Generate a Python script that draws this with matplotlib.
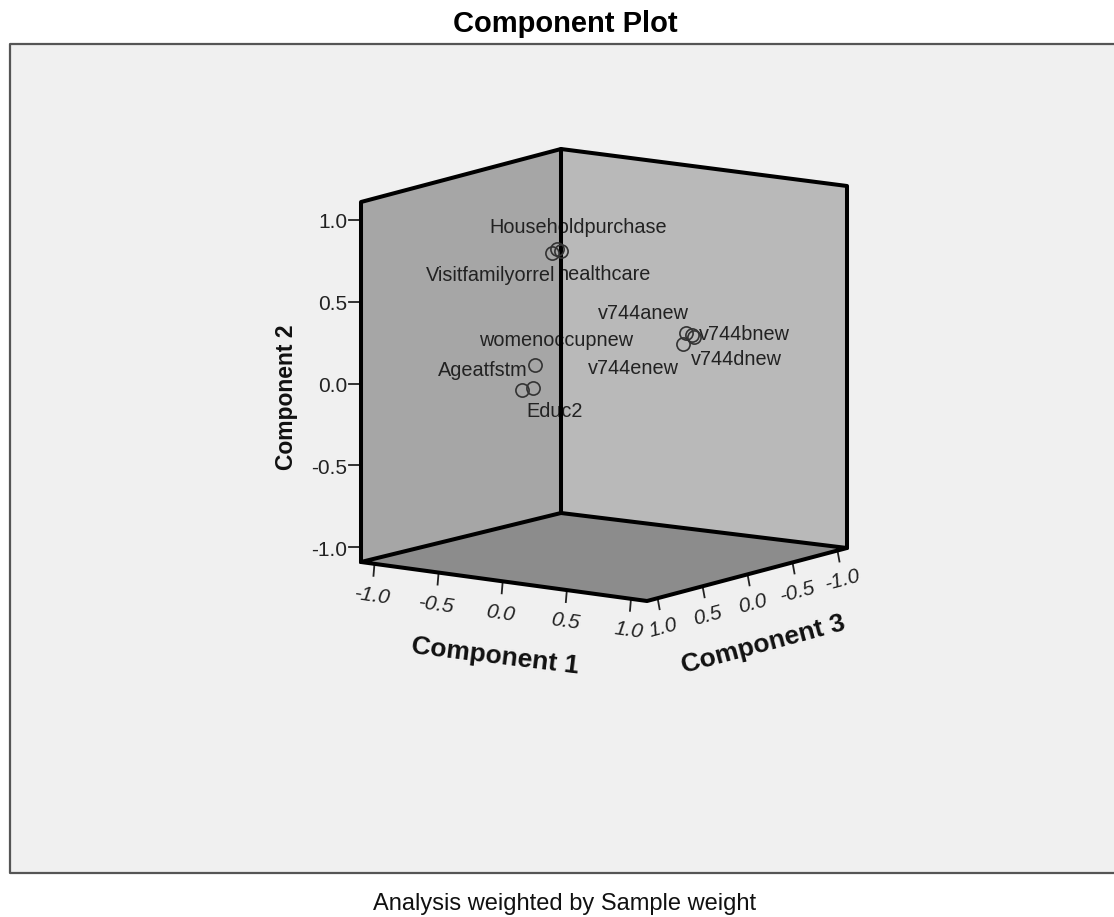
import matplotlib
matplotlib.use("Agg")
import matplotlib.pyplot as plt
import numpy as np

plt.rcParams["font.family"] = ["Liberation Sans", "DejaVu Sans"]

names = ["Householdpurchase", "healthcare", "Visitfamilyorrel",
         "v744anew", "v744bnew", "v744dnew", "v744enew",
         "womenoccupnew", "Ageatfstm", "Educ2"]
comp1 = [-0.29, -0.26, -0.33, 0.68, 0.74, 0.66, 0.73, -0.32, -0.20, -0.28]
comp2 = [0.76, 0.75, 0.73, 0.34, 0.32, 0.27, 0.33, 0.08, -0.02, -0.04]
comp3 = [0.10, 0.10, 0.10, 0.05, 0.05, 0.05, 0.05, 0.30, 0.50, 0.50]

ticks = [-1.0, -0.5, 0.0, 0.5, 1.0]
tick_labels = ["-1.0", "-0.5", "0.0", "0.5", "1.0"]

# label offsets from the marker, in pixels
label_dx = [21, 43, -61, -43, 51, 53, -59, 21, -50, 32]
label_dy = [-21, 24, 22, -19, -3, 15, 33, -24, -17, 22]

# axis limits of the box
lim1 = (-1.105, 1.125)
lim2 = (-1.09, 1.11)
lim3 = (-1.106, 1.118)

# where the box corners land on the picture: [c1 side][c3 side] (x, y bottom, y top)
corners = {
    (0, 0): (361, 562, 202),
    (1, 0): (647, 601, 239),
    (0, 1): (561, 513, 149),
    (1, 1): (847, 548, 186),
}


def project(c1, c2, c3):
    u = (c1 - lim1[0]) / (lim1[1] - lim1[0])
    v = (c2 - lim2[0]) / (lim2[1] - lim2[0])
    # c3 runs from front (high) to back (low)
    w = (lim3[1] - c3) / (lim3[1] - lim3[0])
    x = 0
    y = 0
    for i, wu in ((0, 1 - u), (1, u)):
        for k, ww in ((0, 1 - w), (1, w)):
            cx, yb, yt = corners[(i, k)]
            x += wu * ww * cx
            y += wu * ww * (yb + v * (yt - yb))
    return x, y


fig = plt.figure(figsize=(11.14, 9.17), dpi=100, facecolor="white")
ax = fig.add_axes([0, 0, 1, 1])
ax.set_xlim(0, 1114)
ax.set_ylim(917, 0)
ax.axis("off")

# grey panel, open on the right side
ax.fill([10, 1114, 1114, 10], [44, 44, 873, 873], color="#f0f0f0", lw=0, zorder=0)
ax.plot([1114, 10, 10, 1114], [44, 44, 873, 873], color="#555555", lw=1.6, zorder=1)

lo1, hi1 = lim1
lo2, hi2 = lim2
lo3, hi3 = lim3


def poly(points, color):
    xy = [project(*p) for p in points]
    ax.fill([p[0] for p in xy], [p[1] for p in xy], color=color, lw=0, zorder=1)


poly([(lo1, lo2, hi3), (lo1, hi2, hi3), (lo1, hi2, lo3), (lo1, lo2, lo3)], "#a6a6a6")
poly([(lo1, lo2, lo3), (lo1, hi2, lo3), (hi1, hi2, lo3), (hi1, lo2, lo3)], "#b9b9b9")
poly([(lo1, lo2, hi3), (hi1, lo2, hi3), (hi1, lo2, lo3), (lo1, lo2, lo3)], "#8c8c8c")

edges = [
    [(lo1, lo2, hi3), (lo1, hi2, hi3), (lo1, hi2, lo3), (hi1, hi2, lo3), (hi1, lo2, lo3)],
    [(lo1, lo2, lo3), (lo1, hi2, lo3)],
    [(lo1, lo2, hi3), (hi1, lo2, hi3), (hi1, lo2, lo3), (lo1, lo2, lo3), (lo1, lo2, hi3)],
]
for edge in edges:
    xy = [project(*p) for p in edge]
    ax.plot([p[0] for p in xy], [p[1] for p in xy], color="black", lw=2.9,
            solid_joinstyle="round", solid_capstyle="round", zorder=4)

# ticks and tick labels
for t, lab in zip(ticks, tick_labels):
    x, y = project(lo1, t, hi3)
    ax.plot([x - 12, x], [y, y], color="#222222", lw=1.3, zorder=2)
    ax.text(x - 14, y + 3, lab, ha="right", va="center", fontsize=15, color="#222222")

    x, y = project(t, lo2, hi3)
    ax.plot([x, x - 1], [y, y + 12], color="#222222", lw=1.3, zorder=2)
    ax.text(x - 2, y + 32, lab, ha="center", va="center", fontsize=15, color="#222222",
            style="italic", rotation=-8, rotation_mode="anchor")

    x, y = project(hi1, lo2, t)
    ax.plot([x, x + 2], [y, y + 11], color="#222222", lw=1.3, zorder=2)
    ax.text(x + 5, y + 30, lab, ha="center", va="center", fontsize=15, color="#222222",
            style="italic", rotation=15, rotation_mode="anchor")

# axis titles
ax.text(287, 397, "Component 2", rotation=90, ha="center", va="center",
        fontsize=16.5, fontweight="bold", color="#111111")
ax.text(495, 656, "Component 1", rotation=-7, ha="center", va="center",
        fontsize=19, fontweight="bold", color="#111111", rotation_mode="anchor")
ax.text(763, 645, "Component 3", rotation=15, ha="center", va="center",
        fontsize=19, fontweight="bold", color="#111111", rotation_mode="anchor")

# points and their labels
for name, a, b, c, dx, dy in zip(names, comp1, comp2, comp3, label_dx, label_dy):
    x, y = project(a, b, c)
    ax.plot([x], [y], "o", ms=9.5, mfc="none", mec="#333333", mew=1.2, zorder=5)
    ax.annotate(name, (x, y), xytext=(dx, -dy), textcoords="offset pixels",
                ha="center", va="center", fontsize=14.3, color="#222222", zorder=3)

ax.text(565, 24, "Component Plot", ha="center", va="center", fontsize=21,
        fontweight="bold", color="black")
ax.text(565, 904, "Analysis weighted by Sample weight", ha="center", va="center",
        fontsize=17, color="#111111")

fig.savefig("out.png", dpi=100)
